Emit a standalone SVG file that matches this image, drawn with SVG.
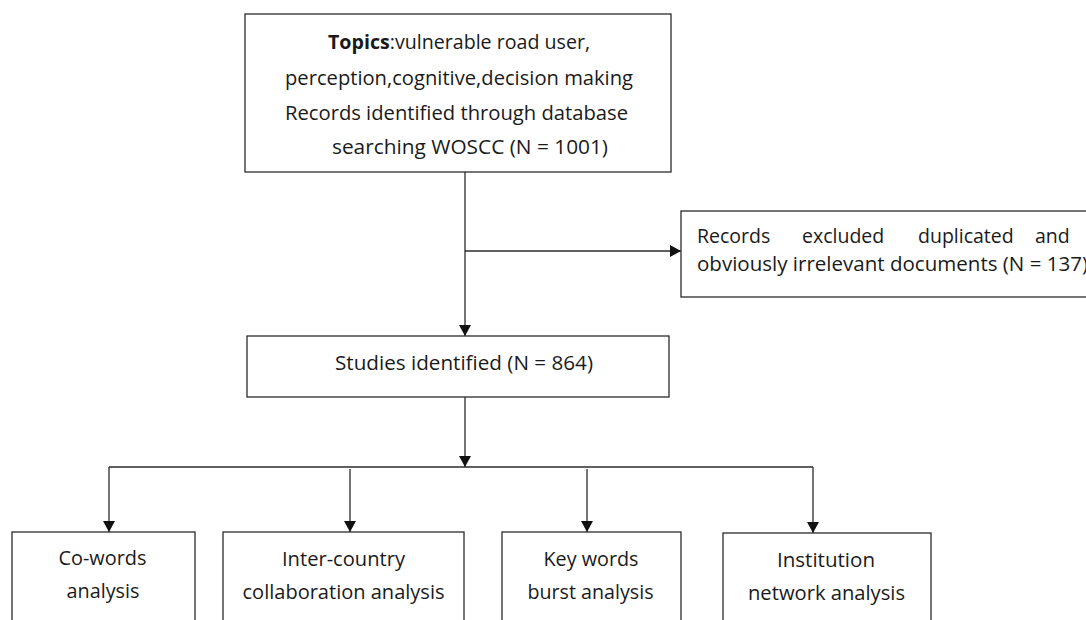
<svg xmlns="http://www.w3.org/2000/svg" width="1086" height="620" viewBox="0 0 1086 620">
  <style>
    .box { fill: #ffffff; stroke: #2b2b2b; stroke-width: 1.3; }
    .t { font-family: "Open Sans", "Liberation Sans", sans-serif; font-size: 19.5px; fill: #1a1a1a; }
    .ln { fill: none; stroke: #2b2b2b; stroke-width: 1.3; }
  </style>
  <defs>
    <marker id="ah" markerUnits="userSpaceOnUse" markerWidth="12" markerHeight="12" refX="11" refY="6" orient="auto">
      <path d="M0,0 L11,6 L0,12 z" fill="#111111"/>
    </marker>
  </defs>
  <rect width="1086" height="620" fill="#ffffff"/>

  <g id="connectors">
    <line class="ln" x1="465" y1="172" x2="465" y2="336" marker-end="url(#ah)"/>
    <line class="ln" x1="465" y1="251" x2="681" y2="251" marker-end="url(#ah)"/>
    <line class="ln" x1="465" y1="397" x2="465" y2="467" marker-end="url(#ah)"/>
    <line class="ln" x1="109" y1="467" x2="813" y2="467"/>
    <line class="ln" x1="109" y1="467" x2="109" y2="532" marker-end="url(#ah)"/>
    <line class="ln" x1="350" y1="469" x2="350" y2="532" marker-end="url(#ah)"/>
    <line class="ln" x1="587" y1="469" x2="587" y2="532" marker-end="url(#ah)"/>
    <line class="ln" x1="813" y1="467" x2="813" y2="533" marker-end="url(#ah)"/>
  </g>

  <g id="node-records">
    <rect class="box" x="245" y="14" width="426" height="158"/>
    <text class="t" x="328" y="49" textLength="262" lengthAdjust="spacingAndGlyphs"><tspan font-weight="bold">Topics</tspan>:vulnerable road user,</text>
    <text class="t" x="285" y="84.5" textLength="348" lengthAdjust="spacingAndGlyphs">perception,cognitive,decision making</text>
    <text class="t" x="285" y="119.5" textLength="343" lengthAdjust="spacingAndGlyphs">Records identified through database</text>
    <text class="t" x="332" y="154" textLength="276" lengthAdjust="spacingAndGlyphs">searching WOSCC (N = 1001)</text>
  </g>

  <g id="node-excluded">
    <rect class="box" x="681" y="211" width="420" height="86"/>
    <text class="t" y="243"><tspan x="697">Records</tspan><tspan x="802">excluded</tspan><tspan x="918">duplicated</tspan><tspan x="1035">and</tspan></text>
    <text class="t" x="697" y="270.5" textLength="391" lengthAdjust="spacingAndGlyphs">obviously irrelevant documents (N = 137)</text>
  </g>

  <g id="node-studies">
    <rect class="box" x="247" y="336" width="422" height="61"/>
    <text class="t" x="335" y="370" textLength="258" lengthAdjust="spacingAndGlyphs">Studies identified (N = 864)</text>
  </g>

  <g id="node-cowords">
    <rect class="box" x="12" y="532" width="183" height="100"/>
    <text class="t" x="58.5" y="565" textLength="88" lengthAdjust="spacingAndGlyphs">Co-words</text>
    <text class="t" x="66.5" y="598" textLength="73" lengthAdjust="spacingAndGlyphs">analysis</text>
  </g>

  <g id="node-intercountry">
    <rect class="box" x="223" y="532" width="241" height="100"/>
    <text class="t" x="282" y="566" textLength="123" lengthAdjust="spacingAndGlyphs">Inter-country</text>
    <text class="t" x="242.5" y="599" textLength="202" lengthAdjust="spacingAndGlyphs">collaboration analysis</text>
  </g>

  <g id="node-keywords">
    <rect class="box" x="502" y="532" width="179" height="100"/>
    <text class="t" x="543.5" y="566" textLength="95" lengthAdjust="spacingAndGlyphs">Key words</text>
    <text class="t" x="527.5" y="599" textLength="126" lengthAdjust="spacingAndGlyphs">burst analysis</text>
  </g>

  <g id="node-institution">
    <rect class="box" x="723" y="533" width="208" height="100"/>
    <text class="t" x="777" y="567" textLength="98" lengthAdjust="spacingAndGlyphs">Institution</text>
    <text class="t" x="748" y="600" textLength="157" lengthAdjust="spacingAndGlyphs">network analysis</text>
  </g>
</svg>
